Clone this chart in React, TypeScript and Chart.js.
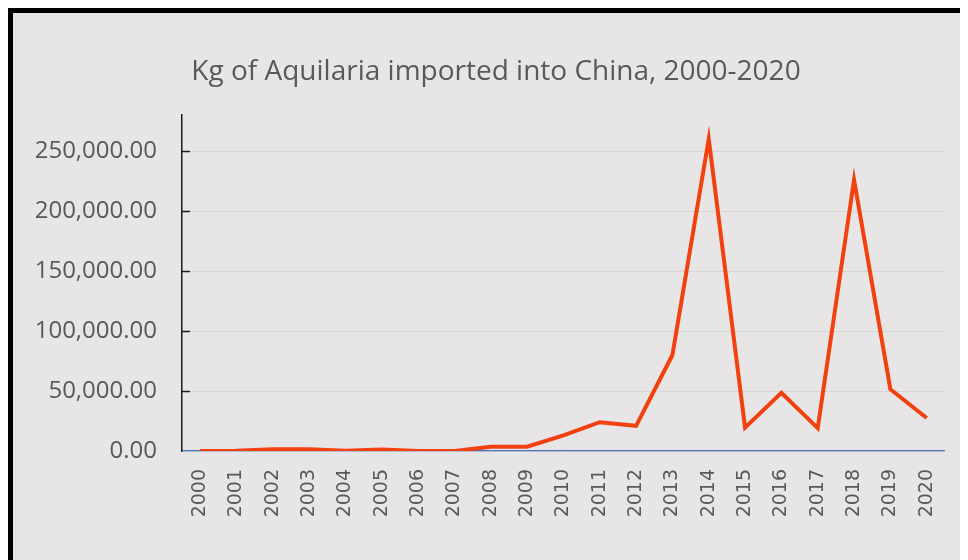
import React, { useEffect, useRef } from "react";
import { Chart, registerables } from "chart.js";

Chart.register(...registerables);

// Kilograms of Aquilaria imported into China, by year
const years: string[] = [
  "2000", "2001", "2002", "2003", "2004", "2005", "2006", "2007", "2008", "2009", "2010",
  "2011", "2012", "2013", "2014", "2015", "2016", "2017", "2018", "2019", "2020",
];
const importedKg: number[] = [
  0, 300, 1500, 1500, 200, 1200, 100, 100, 3500, 3600, 13000,
  24000, 21000, 80000, 260000, 19500, 48500, 19000, 226000, 51500, 27500,
];
const yTickValues: number[] = [0, 50000, 100000, 150000, 200000, 250000];
const yMax = 280000;

const textGray = "#595959";

// short tick marks pointing into the plot from the value axis
const innerTicks = {
  id: "innerTicks",
  afterDraw(chart: any) {
    const y = chart.scales.y;
    const ctx = chart.ctx;
    ctx.save();
    ctx.strokeStyle = "#1a1a1a";
    ctx.lineWidth = 1.5;
    y.ticks.forEach((t: any) => {
      if (t.value === 0) return;
      const py = Math.round(y.getPixelForValue(t.value)) + 0.5;
      ctx.beginPath();
      ctx.moveTo(chart.chartArea.left, py);
      ctx.lineTo(chart.chartArea.left + 8, py);
      ctx.stroke();
    });
    ctx.restore();
  },
};

export default function App() {
  const ref = useRef<HTMLCanvasElement>(null);

  useEffect(() => {
    document.documentElement.style.overflow = "hidden";
    const chart = new Chart(ref.current!, {
      type: "line",
      data: {
        labels: years,
        datasets: [
          {
            label: "Kg imported",
            data: importedKg,
            borderColor: "#f2410f",
            borderWidth: 4,
            pointRadius: 0,
            tension: 0,
            fill: false,
          },
        ],
      },
      options: {
        responsive: false,
        animation: false,
        layout: { padding: { left: 11, right: 0, top: 0, bottom: 0 } },
        plugins: {
          legend: { display: false },
          tooltip: { enabled: false },
          title: {
            display: true,
            text: "Kg of Aquilaria imported into China, 2000-2020",
            color: textGray,
            font: { family: "'Open Sans'", size: 28, weight: "normal", lineHeight: 1.2 },
            padding: { top: 42.2, bottom: 26.2 },
          },
        },
        scales: {
          x: {
            offset: true,
            z: 1,
            grid: { display: false, drawTicks: false },
            border: { display: true, color: "#4a74c0", width: 1.2 },
            ticks: {
              color: textGray,
              font: { family: "'DejaVu Sans'", size: 19 },
              minRotation: 90,
              maxRotation: 90,
              padding: 18,
              autoSkip: false,
            },
            afterFit(scale: any) {
              scale.height = 109;
            },
          },
          y: {
            min: 0,
            max: yMax,
            afterBuildTicks(scale: any) {
              scale.ticks = yTickValues.map((value) => ({ value }));
            },
            grid: { color: "#d6d4d4", lineWidth: 1, drawTicks: false },
            border: { display: true, color: "#1a1a1a", width: 1.5 },
            ticks: {
              color: textGray,
              padding: 25,
              font: { family: "'Open Sans'", size: 24 },
              callback: (v: any) =>
                Number(v).toLocaleString("en-US", {
                  minimumFractionDigits: 2,
                  maximumFractionDigits: 2,
                }),
            },
            afterFit(scale: any) {
              scale.width = 158;
            },
          },
          // empty right-hand gutter next to the plot
          gutter: {
            type: "linear",
            position: "right",
            display: true,
            grid: { display: false, drawTicks: false },
            border: { display: false },
            ticks: { display: false },
            afterFit(scale: any) {
              scale.width = 21;
            },
          },
        },
      },
      plugins: [innerTicks],
    });
    return () => chart.destroy();
  }, []);

  return (
    <div
      style={{
        width: 955,
        height: 547,
        borderLeft: "5px solid #000",
        borderTop: "5px solid #000",
        background: "#e7e5e5",
      }}
    >
      <canvas ref={ref} width={955} height={547} style={{ display: "block" }} />
    </div>
  );
}
